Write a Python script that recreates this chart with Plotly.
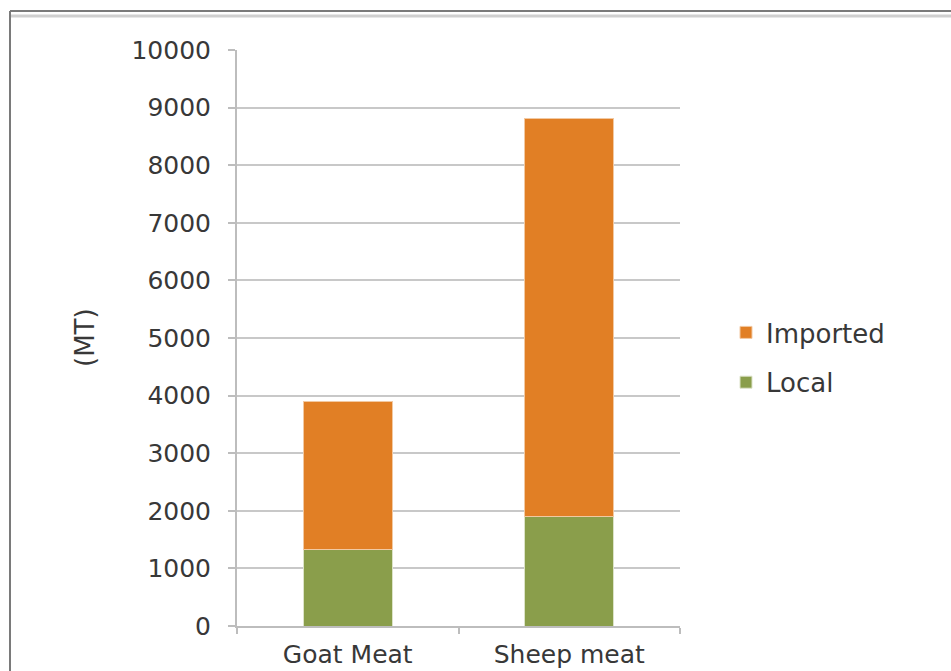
import plotly.graph_objects as go

categories = ["Goat Meat", "Sheep meat"]
local_vals = [1330, 1900]
imported_vals = [2570, 6910]
y_ticks = [0, 1000, 2000, 3000, 4000, 5000, 6000, 7000, 8000, 9000, 10000]
y_tick_labels = ["0", "1000", "2000", "3000", "4000", "5000", "6000", "7000", "8000", "9000", "10000"]

ORANGE = "#E17F25"
GREEN = "#8A9E4B"
TXT = "#383838"
FONT = "DejaVu Sans"

fig = go.Figure()
fig.add_trace(go.Bar(
    x=categories, y=local_vals, name="Local", legendgroup="b", legendrank=2,
    marker=dict(color=GREEN, line=dict(color="#DCE3C8", width=1)),
))
fig.add_trace(go.Bar(
    x=categories, y=imported_vals, name="Imported", legendgroup="a", legendrank=1,
    marker=dict(color=ORANGE, line=dict(color="#F2C9A2", width=1)),
))

L, R, T, B = 237, 680, 50, 626
W, H = 951, 671
pw, ph = R - L, B - T

def px(x):
    return (x - L) / pw

def py(y):
    return (B - y) / ph

fig.update_layout(
    width=W, height=H,
    margin=dict(l=L, r=W - R, t=T, b=H - B, pad=0, autoexpand=False),
    paper_bgcolor="white", plot_bgcolor="white",
    barmode="stack", bargap=0.6,
    font=dict(family=FONT, color=TXT, size=24),
    showlegend=True,
    legend=dict(
        x=px(726), y=py(309), xanchor="left", yanchor="top",
        traceorder="grouped", tracegroupgap=13,
        font=dict(family=FONT, size=26, color=TXT),
        itemwidth=30, bgcolor="rgba(0,0,0,0)",
    ),
    xaxis=dict(
        showline=True, linecolor="#BDBDBD", linewidth=2,
        ticks="outside", tickson="boundaries", ticklen=6, tickcolor="#BDBDBD", tickwidth=2,
        tickfont=dict(family=FONT, size=25, color=TXT),
        ticklabelstandoff=5, automargin=False,
        showgrid=False, fixedrange=True,
    ),
    yaxis=dict(
        range=[0, 10000], tickvals=y_ticks, ticktext=y_tick_labels,
        showline=True, linecolor="#BDBDBD", linewidth=2,
        ticks="outside", ticklen=7, tickcolor="#BDBDBD", tickwidth=2,
        showgrid=True, gridcolor="#C8C8C8", gridwidth=2,
        zeroline=False, automargin=False,
        tickfont=dict(family=FONT, size=25, color=TXT),
        ticklabelstandoff=12,
    ),
    annotations=[dict(
        text="(MT)", xref="paper", yref="paper", x=px(85), y=py(338),
        xanchor="center", yanchor="middle", textangle=-90, showarrow=False,
        font=dict(family=FONT, size=26, color=TXT),
    )],
    shapes=[
        dict(type="line", xref="paper", yref="paper", x0=px(10), x1=px(10), y0=py(11), y1=py(700),
             line=dict(color="#7A7A7A", width=2), layer="above"),
        dict(type="line", xref="paper", yref="paper", x0=px(10), x1=px(960), y0=py(11), y1=py(11),
             line=dict(color="#7A7A7A", width=2), layer="above"),
        dict(type="line", xref="paper", yref="paper", x0=px(11), x1=px(960), y0=py(16), y1=py(16),
             line=dict(color="#CFCFCF", width=3), layer="above"),
    ],
)

fig.write_html("out.html")
